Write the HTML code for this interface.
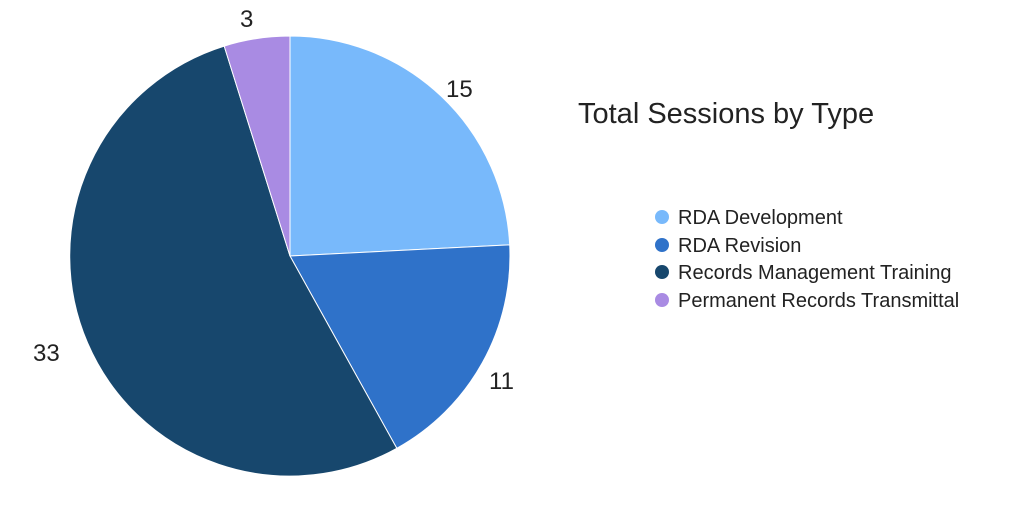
<!DOCTYPE html>
<html><head><style>
body{margin:0;background:#fff;}
svg text{font-family:"Liberation Sans Narrow","Liberation Sans",sans-serif;fill:#222;}
</style></head><body>
<svg width="1024" height="516" viewBox="0 0 1024 516" xmlns="http://www.w3.org/2000/svg">
<rect width="1024" height="516" fill="#fff"/>
<g stroke="#fff" stroke-width="1">
<path d="M290,256 L290,36 A220,220 0 0 1 509.7,244.9 Z" fill="#78b9fb"/>
<path d="M290,256 L509.7,244.9 A220,220 0 0 1 396.8,448.3 Z" fill="#2f72c9"/>
<path d="M290,256 L396.8,448.3 A220,220 0 1 1 224.2,46.1 Z" fill="#17476d"/>
<path d="M290,256 L224.2,46.1 A220,220 0 0 1 290,36 Z" fill="#a98be3"/>
</g>
<g font-size="24">
<text x="446" y="97">15</text>
<text x="489" y="389">11</text>
<text x="33" y="361">33</text>
<text x="240" y="27">3</text>
</g>
<text x="578" y="123" font-size="29">Total Sessions by Type</text>
<g font-size="20">
<circle cx="662" cy="217" r="7" fill="#78b9fb"/><text x="678" y="224">RDA Development</text>
<circle cx="662" cy="245" r="7" fill="#2f72c9"/><text x="678" y="252">RDA Revision</text>
<circle cx="662" cy="272" r="7" fill="#17476d"/><text x="678" y="279">Records Management Training</text>
<circle cx="662" cy="300" r="7" fill="#a98be3"/><text x="678" y="307">Permanent Records Transmittal</text>
</g>
</svg>
</body></html>
